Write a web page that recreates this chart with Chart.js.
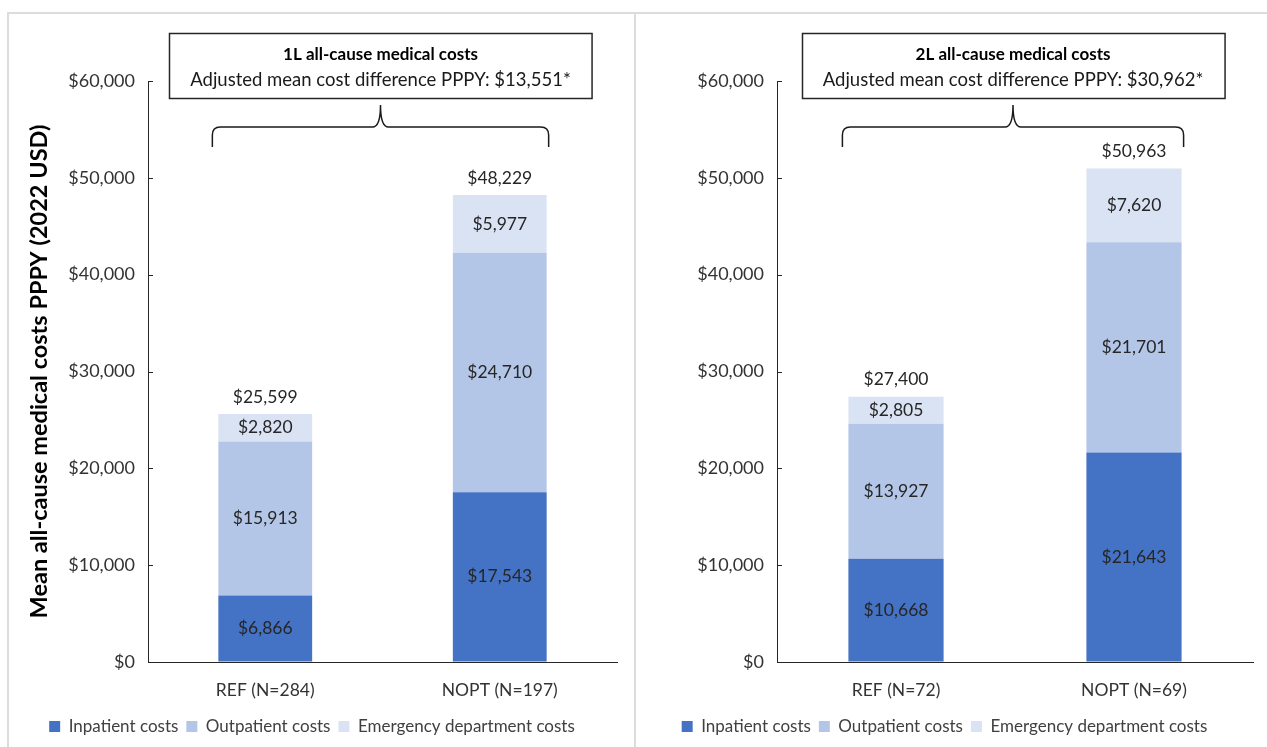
<!DOCTYPE html>
<html>
<head>
<meta charset="utf-8">
<script src="https://cdn.jsdelivr.net/npm/chart.js@4.4.1/dist/chart.umd.min.js"></script>
<style>
  body { margin: 0; background: #fff; font-family: Lato, sans-serif; }
  #frame { position: absolute; left: 7px; top: 12px; width: 1260px; height: 735px;
           border-left: 2px solid #dcdcdc; border-top: 2px solid #dcdcdc; box-sizing: border-box; }
  #sep { position: absolute; left: 634px; top: 12px; width: 2px; height: 735px; background: #dcdcdc; }
  #left { position: absolute; left: 7px; top: 12px; }
  #right { position: absolute; left: 636px; top: 12px; }
</style>
</head>
<body>
<div id="frame"></div>
<div id="sep"></div>
<canvas id="left" width="627" height="735"></canvas>
<canvas id="right" width="631" height="735"></canvas>
<script>
'use strict';

let seriesNames = ['Inpatient costs', 'Outpatient costs', 'Emergency department costs'];
let seriesColors = ['#4472c4', '#b4c6e7', '#dae3f3'];

let categories1 = ['REF (N=284)', 'NOPT (N=197)'];
let inpatient1 = [6866, 17543];
let outpatient1 = [15913, 24710];
let emergency1 = [2820, 5977];
let totals1 = [25599, 48229];
let boxTitle1 = '1L all-cause medical costs';
let boxText1 = 'Adjusted mean cost difference PPPY: $13,551*';

let categories2 = ['REF (N=72)', 'NOPT (N=69)'];
let inpatient2 = [10668, 21643];
let outpatient2 = [13927, 21701];
let emergency2 = [2805, 7620];
let totals2 = [27400, 50963];
let boxTitle2 = '2L all-cause medical costs';
let boxText2 = 'Adjusted mean cost difference PPPY: $30,962*';

let yMax = 60000;
let yStep = 10000;
let yTitle = 'Mean all-cause medical costs PPPY (2022 USD)';

let fontName = 'Lato, sans-serif';

function money(v) {
    return '$' + v.toLocaleString('en-US');
}

// labels, inward ticks, the header box and the brace
let extras = {
    id: 'extras',
    afterDatasetsDraw(chart, args, opts) {
        let ctx = chart.ctx;
        let area = chart.chartArea;
        let yScale = chart.scales.y;
        ctx.save();

        // inward tick marks on the y axis
        ctx.strokeStyle = '#262626';
        ctx.lineWidth = 1;
        yScale.ticks.forEach(function (t) {
            let py = Math.round(yScale.getPixelForValue(t.value)) + 0.5;
            ctx.beginPath();
            ctx.moveTo(area.left, py);
            ctx.lineTo(area.left + 5, py);
            ctx.stroke();
        });

        // segment labels
        ctx.font = '17.5px ' + fontName;
        ctx.fillStyle = '#262626';
        ctx.textAlign = 'center';
        ctx.textBaseline = 'middle';
        chart.data.datasets.forEach(function (ds, di) {
            chart.getDatasetMeta(di).data.forEach(function (bar, i) {
                ctx.fillText(money(ds.data[i]), bar.x, (bar.y + bar.base) / 2);
            });
        });

        // totals on top
        let topMeta = chart.getDatasetMeta(chart.data.datasets.length - 1);
        topMeta.data.forEach(function (bar, i) {
            ctx.fillText(money(opts.totals[i]), bar.x, bar.y - 17);
        });

        // brace
        let first = topMeta.data[0];
        let last = topMeta.data[topMeta.data.length - 1];
        let x0 = first.x - first.width / 2 - 6;
        let x1 = last.x + last.width / 2 + 2;
        let xm = (x0 + x1) / 2;
        let yTip = 93, yMid = 115, yEnd = 135, r = 8;
        ctx.strokeStyle = '#1a1a1a';
        ctx.lineWidth = 1.5;
        ctx.beginPath();
        ctx.moveTo(x0, yEnd);
        ctx.lineTo(x0, yMid + r);
        ctx.quadraticCurveTo(x0, yMid, x0 + r, yMid);
        ctx.lineTo(xm - r, yMid);
        ctx.quadraticCurveTo(xm, yMid, xm, yTip);
        ctx.quadraticCurveTo(xm, yMid, xm + r, yMid);
        ctx.lineTo(x1 - r, yMid);
        ctx.quadraticCurveTo(x1, yMid, x1, yMid + r);
        ctx.lineTo(x1, yEnd);
        ctx.stroke();

        // header box
        ctx.font = '18.5px ' + fontName;
        let w = ctx.measureText(opts.boxText).width + 42;
        let bx = Math.round(xm - w / 2) + 0.5;
        let by = 21.5;
        ctx.fillStyle = '#fff';
        ctx.fillRect(bx, by, w, 65);
        ctx.strokeStyle = '#262626';
        ctx.lineWidth = 1.5;
        ctx.strokeRect(bx, by, w, 65);
        ctx.fillStyle = '#000';
        ctx.font = 'bold 17px ' + fontName;
        ctx.fillText(opts.boxTitle, xm, by + 21);
        ctx.fillStyle = '#1a1a1a';
        ctx.font = '18.5px ' + fontName;
        ctx.fillText(opts.boxText, xm, by + 47);

        ctx.restore();
    }
};

function makeChart(id, cats, inp, outp, emerg, totals, title, text, showTitle, rightPad) {
    let ctx = document.getElementById(id).getContext('2d');
    return new Chart(ctx, {
        type: 'bar',
        data: {
            labels: cats,
            datasets: [{
                label: seriesNames[0],
                data: inp,
                backgroundColor: seriesColors[0]
            }, {
                label: seriesNames[1],
                data: outp,
                backgroundColor: seriesColors[1]
            }, {
                label: seriesNames[2],
                data: emerg,
                backgroundColor: seriesColors[2]
            }]
        },
        options: {
            responsive: false,
            animation: false,
            barPercentage: 0.4,
            categoryPercentage: 1,
            layout: {
                padding: { top: 69, right: rightPad, bottom: 2, left: 0 }
            },
            plugins: {
                legend: {
                    position: 'bottom',
                    labels: {
                        font: { family: fontName, size: 17 },
                        color: '#404040',
                        boxWidth: 11,
                        boxHeight: 11,
                        padding: 8
                    }
                },
                tooltip: { enabled: false },
                extras: { totals: totals, boxTitle: title, boxText: text }
            },
            scales: {
                x: {
                    stacked: true,
                    grid: { display: false },
                    border: { color: '#262626', width: 1 },
                    ticks: {
                        font: { family: fontName, size: 17.5 },
                        color: '#333',
                        padding: 10
                    },
                    afterFit: function (scale) { scale.height = 48; }
                },
                y: {
                    stacked: true,
                    min: 0,
                    max: yMax,
                    afterFit: function (scale) { scale.width = 141; },
                    grid: { drawOnChartArea: false, drawTicks: false },
                    border: { color: '#262626', width: 1 },
                    ticks: {
                        stepSize: yStep,
                        font: { family: fontName, size: 18 },
                        color: '#333',
                        padding: 13,
                        callback: function (v) { return money(v); }
                    },
                    title: {
                        display: showTitle,
                        text: yTitle,
                        font: { family: fontName, size: 23.5, weight: 'bold' },
                        color: '#000',
                        padding: { top: 18, bottom: 0 }
                    }
                }
            }
        },
        plugins: [extras]
    });
}

makeChart('left', categories1, inpatient1, outpatient1, emergency1, totals1, boxTitle1, boxText1, true, 17);
makeChart('right', categories2, inpatient2, outpatient2, emergency2, totals2, boxTitle2, boxText2, false, 14);
</script>
</body>
</html>
